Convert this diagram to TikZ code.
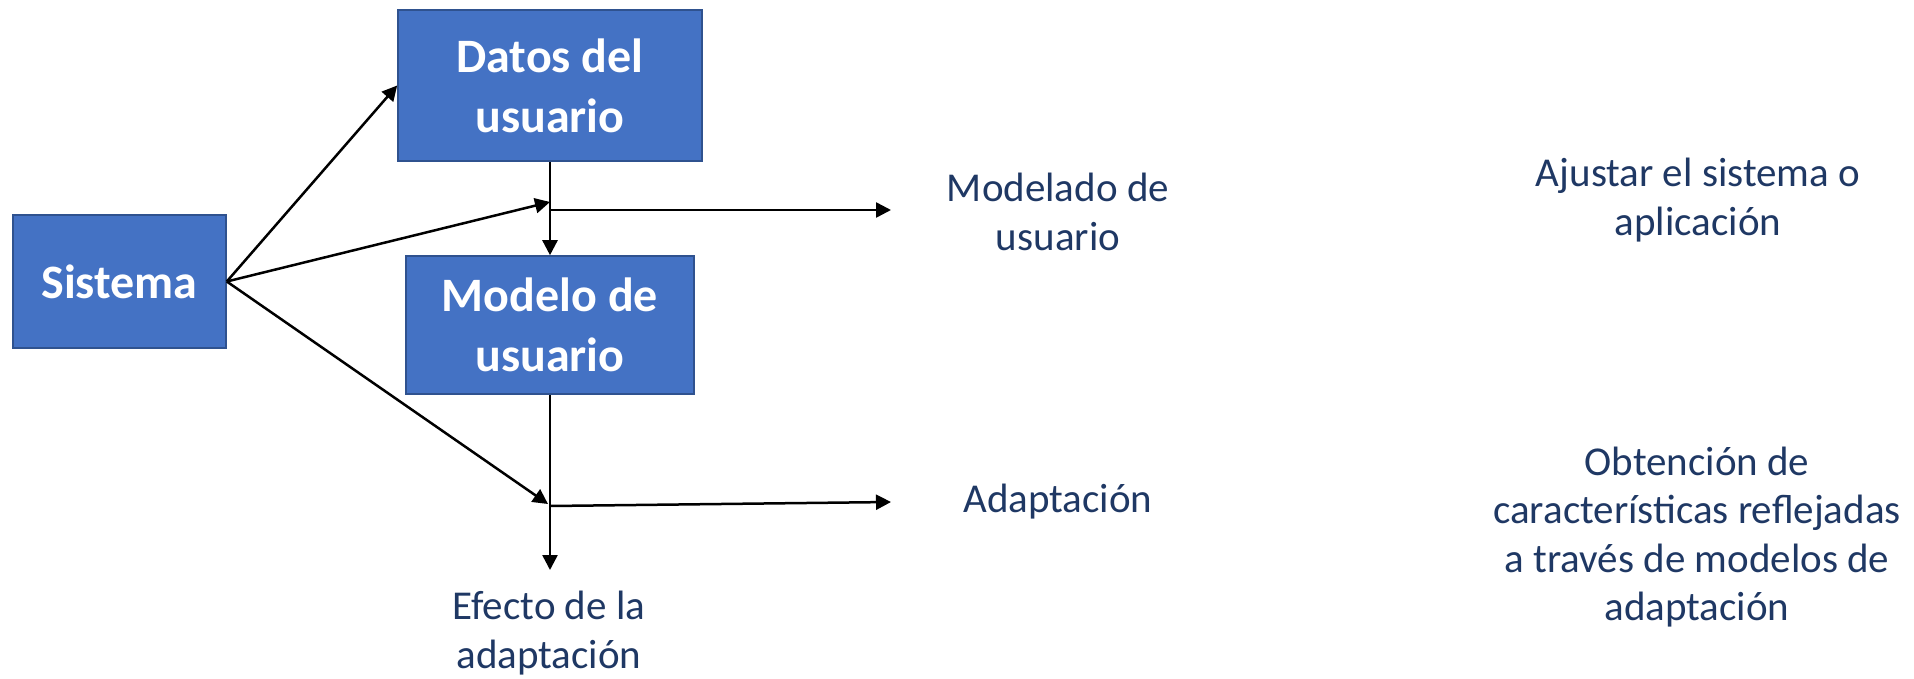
\documentclass[tikz,border=0pt]{standalone}
\usepackage{fontspec}
\setmainfont{Carlito}
\usetikzlibrary{arrows.meta}
\definecolor{boxfill}{HTML}{4472C4}
\definecolor{boxline}{HTML}{2F528F}
\definecolor{navy}{HTML}{1F3864}
\tikzset{
  blk/.style={draw=boxline, line width=1.6pt, fill=boxfill, text=white, align=center, inner sep=0pt,
    font=\fontsize{48}{60}\selectfont\bfseries},
  lbl/.style={text=navy, align=center, inner sep=0pt, font=\fontsize{41}{48.5}\selectfont},
  conn/.style={line width=2.5pt, -{Triangle[length=15pt,width=15pt]}},
  plain/.style={line width=2.5pt}
}
\begin{document}
\begin{tikzpicture}[x=1pt,y=-1pt]
\useasboundingbox (0,0) rectangle (1914,678);
\node[blk, minimum width=213pt, minimum height=133pt] (sis) at (119.5,281.5) {Sistema};
\node[blk, minimum width=304pt, minimum height=151pt] (datos) at (550,85.5) {Datos del\\usuario};
\node[blk, minimum width=288pt, minimum height=138pt] (modelo) at (550,325) {Modelo de\\usuario};
\coordinate (j1) at (550,202);
\coordinate (h1s) at (550,210);
\coordinate (h1e) at (891,210);
\coordinate (j2) at (548,504);
\coordinate (h2s) at (550,506);
\coordinate (h2e) at (891,502);
\coordinate (dn) at (550,570);
\draw[conn] (sis.east) -- (datos.west);
\draw[conn] (sis.east) -- (j1);
\draw[conn] (sis.east) -- (j2);
\draw[conn] (datos.south) -- (modelo.north);
\draw[conn] (h1s) -- (h1e);
\draw[conn] (modelo.south) -- (dn);
\draw[conn] (h2s) -- (h2e);
\node[lbl] (modelado) at (1058,212) {Modelado de\\usuario};
\node[lbl] (adapt) at (1058,502) {Adaptación};
\node[lbl] (efecto) at (549,633) {Efecto de la\\adaptación};
\node[lbl] (ajustar) at (1698,200) {Ajustar el sistema o\\aplicación};
\node[lbl] (obt) at (1697,537) {Obtención de\\características reflejadas\\a través de modelos de\\adaptación};
\end{tikzpicture}
\end{document}
